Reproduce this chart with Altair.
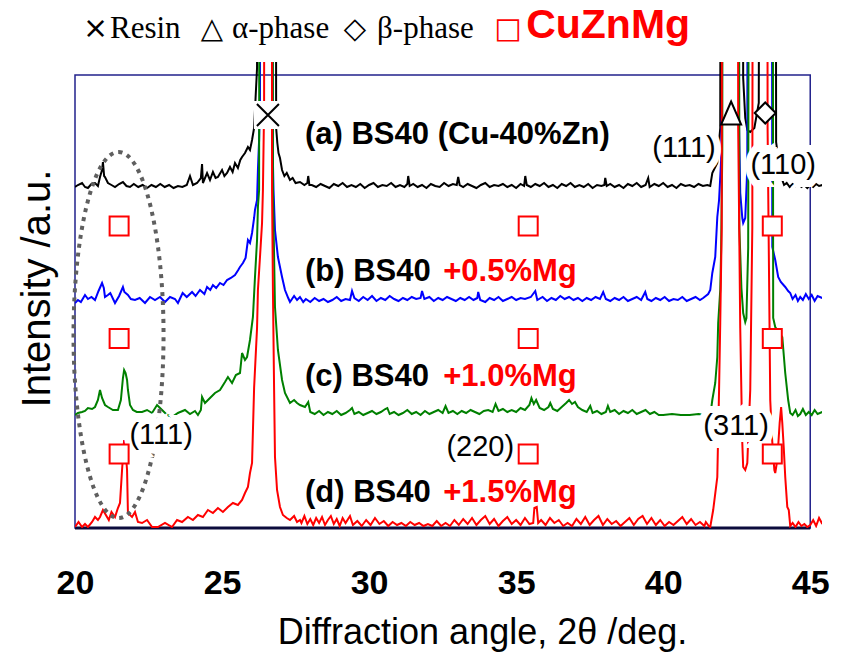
import altair as alt
import pandas as pd

SANS = "Liberation Sans, Arial, sans-serif"
SERIF = "Liberation Serif, Times New Roman, serif"
SYM = "DejaVu Sans, sans-serif"

# ---------------- data: (2theta [deg], intensity [a.u., offset]) ----------------
A_PTS = [(20.00,341),(20.10,343),(20.24,345),(20.34,341),(20.44,340),(20.56,344),(20.68,345),(20.78,342),(20.85,351),(20.92,358),(20.95,366),(20.99,352),(21.02,351),(21.12,345),(21.24,343),(21.36,341),(21.50,344),(21.63,346),(21.75,342),(21.87,341),(22.00,344),(22.15,341),(22.30,343),(22.45,340),(22.60,343),(22.75,341),(22.90,344),(23.05,341),(23.20,343),(23.35,340),(23.50,342),(23.65,341),(23.80,343),(23.91,352),(24.01,343),(24.15,345),(24.28,350),(24.32,364),(24.35,345),(24.49,355),(24.59,348),(24.69,356),(24.78,350),(24.86,351),(25.00,358),(25.08,352),(25.17,355),(25.27,361),(25.36,356),(25.44,365),(25.54,360),(25.62,368),(25.68,371),(25.78,375),(25.88,381),(25.95,378),(26.02,388),(26.09,400),(26.14,430),(26.19,460),(26.22,1500),(26.80,1500),(26.84,400),(26.88,385),(26.92,375),(26.97,370),(27.04,358),(27.12,352),(27.20,355),(27.31,348),(27.40,350),(27.50,345),(27.65,346),(27.80,343),(27.90,345),(27.93,352),(27.97,343),
(28.05,343),(28.20,341),(28.35,344),(28.50,342),(28.65,340),(28.80,344),(28.95,342),(29.10,345),(29.25,341),(29.40,343),(29.55,341),(29.70,344),(29.85,340),(30.00,343),(30.15,345),(30.30,341),(30.45,343),(30.60,342),(30.75,345),(30.90,341),(31.05,343),(31.20,341),(31.30,344),(31.33,352),(31.38,342),(31.50,344),(31.65,341),(31.80,343),(31.95,340),(32.10,344),(32.25,342),(32.40,341),(32.55,345),(32.70,342),(32.85,344),(32.98,343),(33.03,351),(33.08,343),(33.20,341),(33.35,344),(33.50,342),(33.65,340),(33.80,343),(33.95,345),(34.10,341),(34.25,343),(34.40,342),(34.55,344),(34.70,341),(34.85,343),(35.00,340),(35.15,344),(35.27,342),(35.31,352),(35.36,343),(35.50,341),(35.65,344),(35.80,342),(35.95,345),(36.10,341),(36.25,343),(36.40,340),(36.55,344),(36.70,342),(36.85,345),(37.00,341),(37.15,343),(37.30,341),(37.45,344),(37.60,340),(37.75,343),(37.90,342),(38.00,343),(38.03,350),(38.08,342),(38.20,344),(38.35,341),(38.50,343),(38.65,340),(38.80,344),(38.95,342),(39.10,345),(39.25,341),(39.40,343),(39.49,350),(39.54,341),(39.70,344),(39.85,342),(40.00,345),(40.15,341),(40.30,343),(40.45,340),(40.60,344),(40.75,342),(40.90,343),(41.05,341),(41.20,344),(41.35,342),(41.50,343),
(41.60,342),(41.67,355),(41.77,361),(41.84,365),(41.94,400),(41.99,1500),(42.66,1500),(42.72,450),(42.79,410),(42.86,398),(42.96,396),(43.10,400),(43.25,425),(43.33,1500),(43.80,1500),(43.84,386),(43.95,360),(44.05,348),(44.11,343),(44.20,345),(44.30,341),(44.40,344),(44.50,342),(44.60,345),(44.70,341),(44.80,343),(44.90,340),(45.00,343),(45.10,341),(45.20,344),(45.30,342),(45.41,343)]

B_PTS = [(20.00,225),(20.10,228),(20.20,226),(20.34,233),(20.44,229),(20.56,231),(20.68,228),(20.80,237),(20.92,245),(20.98,240),(21.02,231),(21.12,233),(21.20,235),(21.36,225),(21.50,232),(21.63,241),(21.68,236),(21.80,233),(21.90,229),(22.04,228),(22.20,230),(22.38,225),(22.55,231),(22.72,228),(22.89,231),(23.06,226),(23.23,231),(23.40,229),(23.50,225),(23.66,235),(23.80,231),(23.98,236),(24.10,232),(24.25,238),(24.40,234),(24.49,241),(24.60,238),(24.69,243),(24.80,240),(24.93,245),(25.05,243),(25.17,248),(25.30,250),(25.44,253),(25.55,258),(25.61,261),(25.71,265),(25.80,270),(25.88,288),(25.95,285),(26.02,295),(26.09,310),(26.12,318),(26.19,328),(26.22,358),(26.26,388),(26.29,428),(26.32,1500),(26.68,1500),(26.72,380),(26.75,338),(26.80,298),(26.90,271),(27.04,251),(27.14,238),(27.25,230),(27.31,226),(27.45,232),(27.55,228),(27.65,231),(27.76,226),
(27.85,229),(28.00,226),(28.15,230),(28.30,227),(28.45,229),(28.60,226),(28.75,228),(28.90,231),(29.05,227),(29.20,229),(29.35,228),(29.42,237),(29.50,230),(29.65,227),(29.80,231),(29.95,228),(30.10,232),(30.25,227),(30.40,230),(30.55,228),(30.70,232),(30.85,229),(31.00,227),(31.15,230),(31.30,228),(31.45,231),(31.60,229),(31.75,230),(31.80,237),(31.88,229),(32.05,231),(32.20,227),(32.35,230),(32.50,228),(32.65,231),(32.80,229),(32.95,227),(33.10,230),(33.25,228),(33.40,231),(33.55,228),(33.68,230),(33.71,236),(33.78,228),(33.95,226),(34.10,230),(34.25,228),(34.40,231),(34.55,227),(34.70,229),(34.85,231),(35.00,228),(35.15,230),(35.30,229),(35.50,231),(35.65,237),(35.72,228),(35.90,231),(36.05,227),(36.20,230),(36.35,228),(36.50,232),(36.65,229),(36.80,231),(36.95,228),(37.10,230),(37.25,227),(37.40,230),(37.55,228),(37.70,231),(37.85,229),(37.96,236),(38.05,229),(38.20,227),(38.35,230),(38.50,228),(38.65,231),(38.80,227),(38.95,229),(39.10,231),(39.25,228),(39.39,236),(39.46,229),(39.60,227),(39.75,230),(39.90,228),(40.05,231),(40.20,227),(40.35,229),(40.50,228),(40.65,231),(40.80,227),(40.95,229),(41.10,231),(41.25,228),
(41.36,230),(41.53,234),(41.60,238),(41.67,255),(41.77,271),(41.84,311),(41.90,328),(41.97,368),(42.00,435),(42.03,1500),(42.52,1500),(42.58,400),(42.62,335),(42.69,310),(42.72,305),(42.79,310),(42.86,360),(42.90,1500),(43.67,1500),(43.71,281),(43.81,268),(43.91,251),(44.00,246),(44.15,241),(44.25,237),(44.32,235),(44.40,229),(44.50,233),(44.58,227),(44.66,231),(44.75,228),(44.85,234),(44.95,229),(45.05,233),(45.15,227),(45.25,232),(45.41,230)]

C_PTS = [(20.00,113),(20.10,115),(20.24,116),(20.34,117),(20.44,120),(20.58,119),(20.68,121),(20.78,128),(20.85,138),(20.92,130),(21.02,123),(21.12,121),(21.29,118),(21.46,118),(21.56,128),(21.63,150),(21.67,158),(21.72,155),(21.77,148),(21.80,138),(21.87,123),(21.97,118),(22.10,116),(22.28,116),(22.45,118),(22.62,115),(22.79,123),(22.96,118),(23.13,113),(23.30,111),(23.50,115),(23.74,118),(23.91,114),(24.08,117),(24.18,113),(24.28,118),(24.32,131),(24.42,125),(24.59,130),(24.76,135),(24.93,138),(25.10,146),(25.20,151),(25.34,145),(25.47,153),(25.61,155),(25.68,175),(25.78,168),(25.85,171),(25.95,188),(26.05,211),(26.12,251),(26.19,288),(26.22,321),(26.26,338),(26.30,1500),(26.70,1500),(26.73,338),(26.80,221),(26.90,178),(27.04,148),(27.14,135),(27.31,125),(27.45,128),(27.55,125),(27.65,123),(27.82,121),
(27.93,126),(28.00,116),(28.15,114),(28.30,117),(28.45,113),(28.60,116),(28.75,114),(28.90,117),(29.05,113),(29.20,115),(29.35,118),(29.42,120),(29.50,114),(29.65,116),(29.80,113),(29.95,115),(30.10,117),(30.25,114),(30.40,116),(30.55,119),(30.62,120),(30.70,114),(30.85,116),(31.00,113),(31.15,115),(31.30,118),(31.45,114),(31.60,116),(31.75,113),(31.90,117),(32.05,114),(32.20,116),(32.35,118),(32.50,115),(32.60,122),(32.70,115),(32.85,117),(33.00,114),(33.15,117),(33.30,115),(33.45,118),(33.60,116),(33.75,114),(33.90,117),(34.05,118),(34.20,116),(34.30,124),(34.40,117),(34.55,119),(34.70,116),(34.85,118),(35.00,116),(35.15,120),(35.30,118),(35.45,123),(35.52,130),(35.60,124),(35.68,128),(35.80,120),(35.95,118),(36.10,121),(36.16,125),(36.25,119),(36.40,117),(36.55,121),(36.70,125),(36.80,128),(36.90,124),(37.00,126),(37.10,121),(37.25,118),(37.40,116),(37.52,122),(37.60,115),(37.75,117),(37.90,114),(38.05,116),(38.12,122),(38.20,116),(38.35,118),(38.50,114),(38.65,117),(38.80,115),(38.95,118),(39.10,114),(39.25,116),(39.40,118),(39.55,114),(39.70,116),(39.85,113),(40.00,113),(40.30,114),(40.60,113),(40.90,113),(41.20,114),(41.45,113),
(41.53,113),(41.60,112),(41.67,128),(41.77,145),(41.84,171),(41.87,205),(41.94,238),(41.97,278),(42.01,378),(42.04,1500),(42.55,1500),(42.59,300),(42.66,240),(42.72,215),(42.79,206),(42.83,210),(42.89,280),(42.96,1500),(43.70,1500),(43.74,210),(43.81,201),(43.95,195),(44.05,191),(44.15,155),(44.25,128),(44.32,115),(44.40,113),(44.50,118),(44.58,112),(44.66,114),(44.75,119),(44.85,113),(44.95,116),(45.05,113),(45.15,118),(45.25,114),(45.41,116)]

D_PTS = [(20.00,1),(20.12,6),(20.24,1),(20.34,4),(20.44,1),(20.58,6),(20.68,11),(20.78,8),(20.85,11),(20.95,18),(21.05,13),(21.15,8),(21.24,16),(21.36,11),(21.46,20),(21.53,25),(21.60,58),(21.67,88),(21.74,70),(21.77,58),(21.80,15),(21.94,11),(22.04,16),(22.14,6),(22.28,5),(22.45,8),(22.62,1),(22.82,1),(23.06,5),(23.30,1),(23.47,8),(23.64,6),(23.84,11),(24.01,8),(24.18,13),(24.35,11),(24.52,18),(24.69,15),(24.86,20),(25.03,16),(25.20,21),(25.37,25),(25.54,23),(25.68,28),(25.78,35),(25.88,41),(25.95,55),(26.02,65),(26.09,140),(26.19,200),(26.22,238),(26.29,271),(26.36,305),(26.39,338),(26.43,420),(26.46,1500),(26.68,1500),(26.70,338),(26.73,238),(26.77,138),(26.80,71),(26.87,38),(26.97,21),(27.07,13),(27.20,10),(27.31,8),(27.45,12),(27.55,6),(27.65,8),
(27.70,5),(27.80,12),(27.90,4),(28.00,9),(28.10,3),(28.20,10),(28.30,5),(28.40,11),(28.50,3),(28.60,8),(28.70,12),(28.80,4),(28.90,9),(29.00,2),(29.10,10),(29.20,5),(29.35,12),(29.45,3),(29.60,7),(29.75,2),(29.90,8),(30.05,3),(30.20,10),(30.35,4),(30.50,7),(30.65,2),(30.80,6),(30.95,3),(31.10,5),(31.25,2),(31.40,6),(31.55,3),(31.70,5),(31.85,2),(32.00,4),(32.15,2),(32.30,7),(32.45,2),(32.60,5),(32.75,2),(32.90,8),(33.05,3),(33.20,9),(33.35,4),(33.50,10),(33.65,3),(33.80,8),(33.95,12),(34.10,4),(34.25,9),(34.40,2),(34.55,7),(34.70,11),(34.85,4),(35.00,8),(35.15,3),(35.30,10),(35.45,4),(35.58,5),(35.62,20),(35.70,21),(35.75,5),(35.85,8),(36.00,3),(36.15,10),(36.30,5),(36.45,8),(36.60,2),(36.75,5),(36.90,2),(37.05,9),(37.20,4),(37.35,11),(37.50,3),(37.65,8),(37.80,12),(37.95,3),(38.10,9),(38.25,4),(38.40,7),(38.55,2),(38.70,6),(38.85,10),(39.00,3),(39.15,9),(39.30,12),(39.45,4),(39.60,10),(39.75,3),(39.90,8),(40.05,2),(40.20,6),(40.35,3),(40.50,7),(40.65,11),(40.80,4),(40.95,9),(41.10,3),(41.25,6),(41.40,2),
(41.45,6),(41.55,2),(41.60,1),(41.70,18),(41.84,51),(41.87,95),(41.90,138),(41.94,205),(41.99,300),(42.03,1500),(42.52,1500),(42.55,400),(42.62,200),(42.69,85),(42.72,61),(42.79,58),(42.86,65),(42.89,88),(42.96,138),(43.03,300),(43.08,1500),(43.52,1500),(43.55,400),(43.60,250),(43.64,128),(43.70,90),(43.78,58),(43.81,55),(43.88,68),(43.96,105),(44.01,121),(44.05,105),(44.10,80),(44.15,51),(44.22,21),(44.27,18),(44.32,2),(44.40,5),(44.50,1),(44.60,6),(44.70,2),(44.80,4),(44.90,1),(45.00,3),(45.10,8),(45.20,2),(45.30,10),(45.41,4)]

SERIES_NAMES = ["a", "b", "c", "d"]
SERIES_COLORS = ["#000000", "#0000FF", "#008000", "#FF0000"]

X_DOMAIN = [20, 45.4]
Y_DOMAIN = [0, 466]
X_TICKS = [20, 25, 30, 35, 40, 45]
FRAME_X = [20, 45]
FRAME_Y = [0, 453]

# series labels
LBL_BLACK = ["(a) BS40 (Cu-40%Zn)", "(b) BS40", "(c) BS40", "(d) BS40"]
LBL_RED = ["+0.5%Mg", "+1.0%Mg", "+1.5%Mg"]
LBL_X = 27.82
LBL_RED_X = 32.52
LBL_Y = [393, 256, 151, 35]

# hkl labels
HKL_TEXT = ["(111)", "(110)", "(311)", "(111)", "(220)"]
HKL_X = [40.71, 44.08, 42.48, 22.93, 33.78]
HKL_Y = [380, 363, 102, 93, 81]

# phase markers
RESIN_POS = (26.56, 413)
ALPHA_POS = (42.31, 415)
BETA_POS = (43.47, 415)
SQ_X = [21.50, 35.41, 43.71]
SQ_Y = [302, 189.5, 74]
ELLIPSE_POS = (21.48, 193)

# top legend
LEG_TEXT = ["×", "Resin", "△", "α-phase", "◇", "β-phase", "□", "CuZnMg"]
LEG_X = [20.27, 21.19, 24.28, 25.34, 29.14, 30.27, 34.26, 35.34]
LEG_Y = 490

# ---------------- build tables ----------------
rows = []
for name, pts in zip(SERIES_NAMES, [A_PTS, B_PTS, C_PTS, D_PTS]):
    for i, (t, v) in enumerate(pts):
        rows.append({"series": name, "two_theta": t, "intensity": v, "idx": i})
df = pd.DataFrame(rows)

x_axis = alt.Axis(values=X_TICKS, title="Diffraction angle, 2θ /deg.", grid=False, ticks=False,
                  domain=False, tickSize=0, labelPadding=38, labelFont=SANS, labelFontSize=34,
                  labelFontWeight="bold", labelColor="black", labelFlush=False,
                  titleFont=SANS, titleFontSize=36, titleFontWeight="normal", titleColor="black",
                  titleX=407, titleY=115, titleBaseline="alphabetic", titleAlign="center")
y_axis = alt.Axis(title="Intensity /a.u.", labels=False, ticks=False, domain=False, grid=False,
                  titleFont=SANS, titleFontSize=40, titleFontWeight="normal", titleColor="black",
                  titleAngle=270, titleX=-38, titleY=226, titleAlign="center", titleBaseline="middle")

x_enc = alt.X("two_theta:Q", scale=alt.Scale(domain=X_DOMAIN, nice=False, zero=False), axis=x_axis)
y_enc = alt.Y("intensity:Q", scale=alt.Scale(domain=Y_DOMAIN, nice=False, zero=False), axis=y_axis)

frame_df = pd.DataFrame({"two_theta": [FRAME_X[0]], "x_end": [FRAME_X[1]],
                         "intensity": [FRAME_Y[0]], "y_end": [FRAME_Y[1]]})
frame = alt.Chart(frame_df).mark_rect(fillOpacity=0, stroke="#22228c", strokeWidth=1.5).encode(
    x=x_enc, x2="x_end:Q", y=y_enc, y2="y_end:Q")
bottom = alt.Chart(frame_df).mark_rule(color="#0b0b3c", strokeWidth=3).encode(
    x=x_enc, x2="x_end:Q", y=y_enc)

lines = alt.Chart(df).mark_line(strokeWidth=2, clip=True).encode(
    x=x_enc, y=y_enc,
    color=alt.Color("series:N", scale=alt.Scale(domain=SERIES_NAMES, range=SERIES_COLORS), legend=None),
    order="idx:Q")

ELLIPSE_PATH = ("M0,-1 C0.136,-1 0.246,-0.552 0.246,0 C0.246,0.552 0.136,1 0,1 "
                "C-0.136,1 -0.246,0.552 -0.246,0 C-0.246,-0.552 -0.136,-1 0,-1 Z")
ell_df = pd.DataFrame({"two_theta": [ELLIPSE_POS[0]], "intensity": [ELLIPSE_POS[1]]})
ellipse = alt.Chart(ell_df).mark_point(shape=ELLIPSE_PATH, size=366 * 366, filled=False, opacity=1,
                                       stroke="#5f5f5f", strokeWidth=4, strokeDash=[4, 5]).encode(
    x=x_enc, y=y_enc)

# series labels
lb_df = pd.DataFrame({"two_theta": [LBL_X] * 4, "intensity": LBL_Y, "label": LBL_BLACK})
lr_df = pd.DataFrame({"two_theta": [LBL_RED_X] * 3, "intensity": LBL_Y[1:], "label": LBL_RED})
lab_black = alt.Chart(lb_df).mark_text(align="left", baseline="middle", font=SANS, fontSize=31,
                                       fontWeight="bold", color="black").encode(x=x_enc, y=y_enc, text="label:N")
lab_red = alt.Chart(lr_df).mark_text(align="left", baseline="middle", font=SANS, fontSize=31,
                                     fontWeight="bold", color="#FF0000").encode(x=x_enc, y=y_enc, text="label:N")

hkl_df = pd.DataFrame({"two_theta": HKL_X, "intensity": HKL_Y, "label": HKL_TEXT})
hkl_halo = alt.Chart(hkl_df).mark_text(align="center", baseline="middle", font=SANS, fontSize=29,
                                       color="white", stroke="white", strokeWidth=14).encode(
    x=x_enc, y=y_enc, text="label:N")
hkl = alt.Chart(hkl_df).mark_text(align="center", baseline="middle", font=SANS, fontSize=29,
                                  color="black").encode(x=x_enc, y=y_enc, text="label:N")

# markers
res_df = pd.DataFrame({"two_theta": [RESIN_POS[0]], "intensity": [RESIN_POS[1]]})
res_bg = alt.Chart(res_df).mark_point(shape="square", size=28 * 28, filled=True, fill="white",
                                      opacity=1, strokeWidth=0).encode(x=x_enc, y=y_enc)
res_x = alt.Chart(res_df).mark_point(shape="M-1,-1L1,1M-1,1L1,-1", size=22 * 22, filled=False,
                                     opacity=1, stroke="black", strokeWidth=2).encode(x=x_enc, y=y_enc)
al_df = pd.DataFrame({"two_theta": [ALPHA_POS[0]], "intensity": [ALPHA_POS[1]]})
alpha_m = alt.Chart(al_df).mark_point(shape="M0,-1L-0.87,1L0.87,1Z", size=23 * 23, filled=True,
                                      fill="white", opacity=1, stroke="black", strokeWidth=2).encode(x=x_enc, y=y_enc)
be_df = pd.DataFrame({"two_theta": [BETA_POS[0]], "intensity": [BETA_POS[1]]})
beta_m = alt.Chart(be_df).mark_point(shape="diamond", size=21 * 21, filled=True, fill="white",
                                     opacity=1, stroke="black", strokeWidth=2).encode(x=x_enc, y=y_enc)
sq_df = pd.DataFrame([{"two_theta": sx, "intensity": sy} for sx in SQ_X for sy in SQ_Y])
squares = alt.Chart(sq_df).mark_point(shape="square", size=19 * 19, filled=True, fill="white",
                                      opacity=1, stroke="#FF0000", strokeWidth=2).encode(x=x_enc, y=y_enc)

# top legend
LEG_FONT = [SYM, SERIF, SYM, SERIF, SYM, SERIF, SYM, SANS]
LEG_SIZE = [30, 31, 29, 31, 29, 31, 29, 41]
LEG_COLOR = ["black", "black", "black", "black", "black", "black", "#FF0000", "#FF0000"]
LEG_WEIGHT = ["normal"] * 7 + ["bold"]
leg_layers = []
for t, lx, f, s, c, w in zip(LEG_TEXT, LEG_X, LEG_FONT, LEG_SIZE, LEG_COLOR, LEG_WEIGHT):
    d = pd.DataFrame({"two_theta": [lx], "intensity": [LEG_Y], "label": [t]})
    leg_layers.append(alt.Chart(d).mark_text(align="left", baseline="alphabetic", font=f, fontSize=s,
                                             fontWeight=w, color=c).encode(x=x_enc, y=y_enc, text="label:N"))

chart = alt.layer(frame, bottom, lines, ellipse, lab_black, lab_red, hkl_halo, hkl,
                  res_bg, res_x, alpha_m, beta_m, squares, *leg_layers).properties(
    width=747, height=466,
    autosize=alt.AutoSizeParams(type="none"),
    padding={"left": 75, "top": 62, "right": 19, "bottom": 128},
    background="white",
).configure_view(strokeWidth=0)

chart.save("out.html", embed_options={"renderer": "svg", "actions": False})
